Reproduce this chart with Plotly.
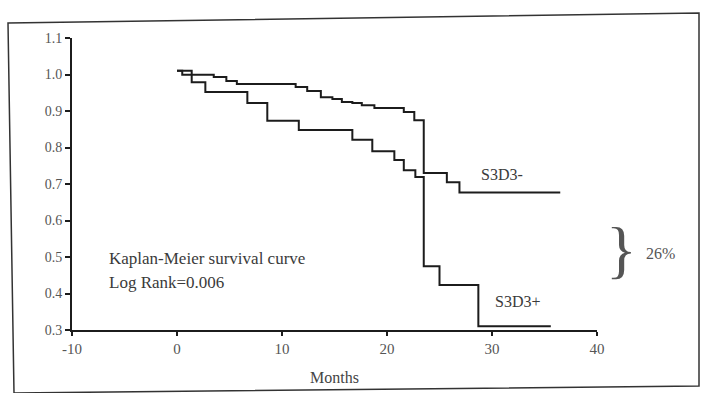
import plotly.graph_objects as go

# --- data ---
neg_months = [0, 0.5, 3.5, 4.7, 5.7, 11.3, 12.4, 13.7, 14.8, 15.7, 16.7, 17.6, 18.8,
              21.6, 22.6, 23.5, 25.7, 26.9, 36.5]
neg_surv = [1.01, 0.999, 0.993, 0.982, 0.974, 0.966, 0.955, 0.938, 0.933, 0.925, 0.922,
            0.916, 0.908, 0.897, 0.875, 0.730, 0.705, 0.677, 0.677]

pos_months = [0, 1.4, 2.7, 6.7, 8.6, 11.6, 16.7, 18.6, 20.7, 21.6, 22.7, 23.5, 25.0,
              28.7, 35.6]
pos_surv = [1.01, 0.979, 0.952, 0.922, 0.873, 0.848, 0.821, 0.790, 0.766, 0.738, 0.719,
            0.475, 0.423, 0.31, 0.31]

x_ticks = [-10, 0, 10, 20, 30, 40]
x_tick_labels = ["-10", "0", "10", "20", "30", "40"]
y_ticks = [0.3, 0.4, 0.5, 0.6, 0.7, 0.8, 0.9, 1.0, 1.1]
y_tick_labels = ["0.3", "0.4", "0.5", "0.6", "0.7", "0.8", "0.9", "1.0", "1.1"]

W, H = 702, 393
L, R, T, B = 72, 105, 38, 63
PW, PH = W - L - R, H - T - B


def px(xp):
    return (xp - L) / PW


def py(yp):
    return (H - B - yp) / PH


FONT = "Liberation Serif"
LINE = "#1c1c1c"
TXT = "#3a3a3a"

fig = go.Figure()
fig.add_trace(go.Scatter(x=neg_months, y=neg_surv, mode="lines", line_shape="hv",
                         line=dict(color=LINE, width=2), name="S3D3-", showlegend=False))
fig.add_trace(go.Scatter(x=pos_months, y=pos_surv, mode="lines", line_shape="hv",
                         line=dict(color=LINE, width=2), name="S3D3+", showlegend=False))

fig.update_layout(
    width=W, height=H,
    margin=dict(l=L, r=R, t=T, b=B, pad=0, autoexpand=False),
    paper_bgcolor="white", plot_bgcolor="white",
    font=dict(family=FONT, color=TXT),
    xaxis=dict(range=[-10, 40], tickvals=x_ticks, ticktext=x_tick_labels, showgrid=False,
               zeroline=False, automargin=False,
               showline=True, linecolor=LINE, linewidth=2, ticks="outside", ticklen=4,
               tickwidth=2, tickcolor=LINE, tickfont=dict(family=FONT, size=15, color="#555"),
               title=dict(text="Months", font=dict(family=FONT, size=16, color="#444"),
                          standoff=16)),
    yaxis=dict(range=[0.3, 1.1], tickvals=y_ticks, ticktext=y_tick_labels, showgrid=False,
               zeroline=False, automargin=False, showline=True, linecolor=LINE, linewidth=2,
               ticks="outside", ticklen=5, tickwidth=2, tickcolor=LINE,
               tickfont=dict(family=FONT, size=14, color="#555")),
    shapes=[dict(type="path", xref="paper", yref="paper",
                 path=f"M {px(8)},{py(23)} L {px(699)},{py(13)} L {px(699)},{py(386)} "
                      f"L {px(14)},{py(393)} Z",
                 line=dict(color="#333", width=1.5))],
)

fig.add_annotation(x=30.95, y=0.727, text="S3D3-", showarrow=False,
                   font=dict(family=FONT, size=16, color=TXT))
fig.add_annotation(x=32.4, y=0.377, text="S3D3+", showarrow=False,
                   font=dict(family=FONT, size=16, color=TXT))
fig.add_annotation(x=-6.67, y=0.497, text="Kaplan-Meier survival curve", showarrow=False,
                   xanchor="left", font=dict(family=FONT, size=17, color=TXT))
fig.add_annotation(x=-6.67, y=0.431, text="Log Rank=0.006", showarrow=False,
                   xanchor="left", font=dict(family=FONT, size=17, color=TXT))
fig.add_annotation(x=px(639), y=py(254), xref="paper", yref="paper", text="}",
                   showarrow=False, yshift=-33, font=dict(family=FONT, size=64, color="#555"))
fig.add_annotation(x=px(644), y=py(254), xref="paper", yref="paper", text="26%",
                   xanchor="left", showarrow=False, yshift=-10,
                   font=dict(family=FONT, size=16, color="#555"))

fig.write_html("out.html", config={"displayModeBar": False},
               post_script="document.body.style.margin='0';")
